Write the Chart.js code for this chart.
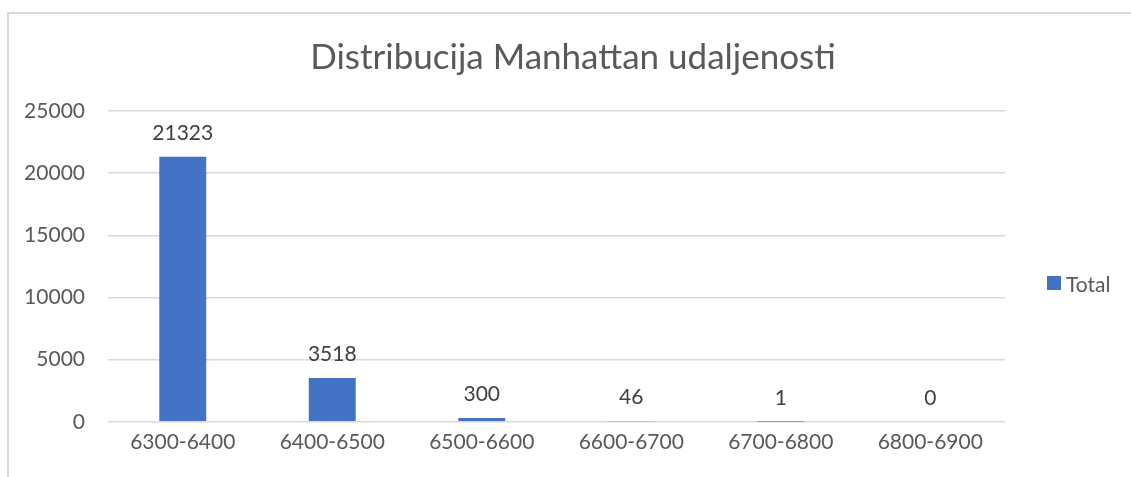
<!DOCTYPE html>
<html>
<head>
<meta charset="utf-8">
<script src="https://cdn.jsdelivr.net/npm/chart.js@4"></script>
<style>
  html, body { margin: 0; padding: 0; background: #fff; }
  #wrap { position: relative; width: 1131px; height: 477px; }
  #frame { position: absolute; left: 7px; top: 12px; right: 0; bottom: 0;
           border-top: 2px solid #d9d9d9; border-left: 2px solid #d9d9d9; }
  canvas { position: absolute; left: 0; top: 0; }
  #legenda { position: absolute; left: 1047px; top: 269px; height: 28px;
             display: flex; align-items: center;
             font-family: Lato, "Open Sans", sans-serif; font-size: 21px; color: #595959; }
  #legenda .kotak { width: 14px; height: 14px; background: #4472c4; margin-right: 5px; }
</style>
</head>
<body>
<div id="wrap">
  <div id="frame"></div>
  <canvas id="grafik" width="1131" height="477"></canvas>
  <div id="legenda"><span class="kotak"></span><span id="legendaTeks"></span></div>
</div>
<script>
// === DATA ===
const kategori = ['6300-6400', '6400-6500', '6500-6600', '6600-6700', '6700-6800', '6800-6900'];
const nilaiTotal = [21323, 3518, 300, 46, 1, 0];
const yTicks = [0, 5000, 10000, 15000, 20000, 25000];
const namaSeri = 'Total';

const FONT = 'Lato, "Open Sans", sans-serif';

document.getElementById('legendaTeks').textContent = namaSeri;

// label angka di atas bar
const labelBar = {
  id: 'labelBar',
  afterDatasetsDraw(chart) {
    const ctx = chart.ctx;
    const meta = chart.getDatasetMeta(0);
    ctx.save();
    ctx.font = '21px ' + FONT;
    ctx.fillStyle = '#404040';
    ctx.textAlign = 'center';
    ctx.textBaseline = 'alphabetic';
    meta.data.forEach((bar, i) => {
      ctx.fillText(String(nilaiTotal[i]), bar.x, bar.y - 17);
    });
    ctx.restore();
  }
};

new Chart(document.getElementById('grafik'), {
  type: 'bar',
  data: {
    labels: kategori,
    datasets: [{
      label: namaSeri,
      data: nilaiTotal,
      backgroundColor: '#4472c4',
      borderWidth: 0,
      barPercentage: 0.314,
      categoryPercentage: 1
    }]
  },
  options: {
    responsive: false,
    animation: false,
    layout: { padding: { top: 0, right: 0, bottom: 14, left: 15 } },
    plugins: {
      title: {
        display: true,
        text: 'Distribucija Manhattan udaljenosti',
        color: '#595959',
        font: { family: FONT, size: 35, weight: 'normal' },
        padding: { top: 37, bottom: 32 }
      },
      legend: { display: false },
      tooltip: { enabled: false }
    },
    scales: {
      x: {
        grid: { display: false, drawTicks: false },
        border: { display: false },
        ticks: { color: '#595959', font: { family: FONT, size: 21 }, padding: 8 }
      },
      y: {
        min: 0,
        max: 25000,
        afterBuildTicks(axis) { axis.ticks = yTicks.map(v => ({ value: v })); },
        afterFit(axis) { axis.width = 93; },
        grid: { color: '#d9d9d9', lineWidth: 1.5, drawTicks: false },
        border: { display: false },
        ticks: {
          color: '#595959',
          font: { family: FONT, size: 21 },
          padding: 23,
          callback: (v) => String(v)
        }
      },
      // ruang kosong di kanan untuk legenda
      ruangKanan: {
        type: 'linear',
        position: 'right',
        grid: { display: false, drawTicks: false },
        border: { display: false },
        ticks: { display: false },
        afterFit(axis) { axis.width = 126; }
      }
    }
  },
  plugins: [labelBar]
});
</script>
</body>
</html>
